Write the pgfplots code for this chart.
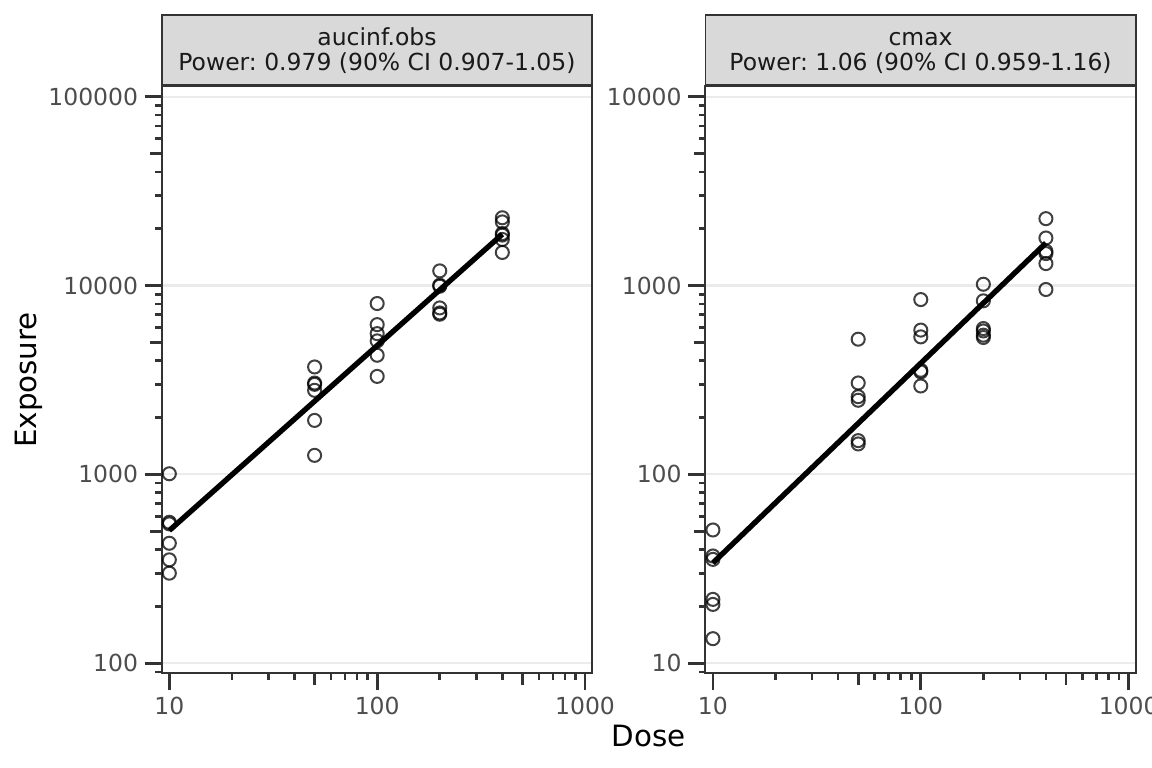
\documentclass[border=0pt]{standalone}
\usepackage{fontspec}
\setmainfont{DejaVu Sans}
\usepackage{pgfplots}
\usepackage{pgfplotstable}
\pgfplotsset{compat=1.18}
\definecolor{gtwenty}{HTML}{333333}
\definecolor{gthirty}{HTML}{4D4D4D}
\definecolor{gridc}{HTML}{EBEBEB}
\definecolor{stripc}{HTML}{D9D9D9}
\definecolor{gten}{HTML}{1A1A1A}
\frenchspacing

\pgfplotstableread{
dose val
10 1008
10 558
10 547
10 432
10 353
10 300
50 3707
50 3047
50 2999
50 2788
50 1932
50 1262
100 8032
100 6211
100 5565
100 5094
100 4276
100 3304
200 11960
200 10040
200 9920
200 7614
200 7165
200 7050
400 22850
400 21730
400 18860
400 18500
400 17540
400 14970
}\auctab

\pgfplotstableread{
dose val
10 50.8
10 37.0
10 35.5
10 21.8
10 20.5
10 13.5
50 520
50 305
50 258
50 247
50 151
50 145
100 843
100 581
100 535
100 356
100 349
100 294
200 1016
200 830
200 592
200 575
200 546
200 531
400 2261
400 1786
400 1520
400 1477
400 1307
400 953
}\cmaxtab

\begin{document}
\begin{tikzpicture}
\useasboundingbox (0,0) rectangle (432pt,-288pt);

\fill[white] (0,0) rectangle (432pt,-288pt);
\draw[fill=stripc, draw=gtwenty, line width=0.6pt] (60.64pt,-5.625pt) rectangle (222.11pt,-31.7pt);
\draw[fill=stripc, draw=gtwenty, line width=0.6pt] (264.49pt,-5.625pt) rectangle (425.96pt,-31.7pt);
\node[anchor=base, inner sep=0pt, text=gten, font=\fontsize{8.8}{10}\selectfont] at (141.37pt,-17.06pt) {aucinf.obs};
\node[anchor=base, inner sep=0pt, text=gten, font=\fontsize{8.8}{10}\selectfont] at (141.37pt,-26.51pt) {Power: 0.979 (90\% CI 0.907-1.05)};
\node[anchor=base, inner sep=0pt, text=gten, font=\fontsize{8.8}{10}\selectfont] at (345.22pt,-17.06pt) {cmax};
\node[anchor=base, inner sep=0pt, text=gten, font=\fontsize{8.8}{10}\selectfont] at (345.22pt,-26.51pt) {Power: 1.06 (90\% CI 0.959-1.16)};

\begin{axis}[at={(60.64pt,-252.49pt)}, anchor=south west,
  xmode=log, ymode=log,
  scale only axis, width=161.48pt, height=220.24pt,
  xmin=9.192, xmax=1084,
  ymin=88.52, ymax=113950,
  axis line style={gtwenty, line width=0.7pt},
  tick align=outside, tick pos=left,
  major tick length=6.4pt, minor tick length=2.45pt,
  tick style={gtwenty, line width=1pt},
  xtick={10,100,1000}, xticklabels={10,100,1000},
  minor xtick={20,30,40,60,70,80,90,200,300,400,600,700,800,900},
  extra x ticks={50,500}, extra x tick labels={},
  extra x tick style={major tick length=4.3pt, xmajorgrids=false},
  ytick={100,1000,10000,100000}, yticklabels={100,1000,10000,100000},
  minor ytick={90,200,300,400,600,700,800,900,2000,3000,4000,6000,7000,8000,9000,20000,30000,40000,60000,70000,80000,90000},
  extra y ticks={500,5000,50000}, extra y tick labels={},
  extra y tick style={major tick length=4.3pt, ymajorgrids=false},
  ymajorgrids=true, xmajorgrids=false,
  major grid style={gridc, line width=0.8pt},
  ticklabel style={font=\fontsize{8.8}{10}\selectfont, text=gthirty},
  xticklabel style={anchor=north, inner sep=0pt, yshift=-2.2pt},
  yticklabel style={anchor=east, inner sep=0pt, xshift=-2.3pt},
  clip=false,
]
\addplot[only marks, mark=o, mark size=2.45pt, mark options={draw=black, draw opacity=0.75, line width=0.75pt}] table[x=dose, y=val] {\auctab};
\addplot[black, line width=2pt] coordinates {(10,505) (400,18700)};
\draw[gtwenty, line width=0.7pt] (rel axis cs:0,0) rectangle (rel axis cs:1,1);
\end{axis}

\begin{axis}[at={(264.49pt,-252.49pt)}, anchor=south west,
  xmode=log, ymode=log,
  scale only axis, width=161.48pt, height=220.24pt,
  xmin=9.192, xmax=1084,
  ymin=8.852, ymax=11395,
  axis line style={gtwenty, line width=0.7pt},
  tick align=outside, tick pos=left,
  major tick length=6.4pt, minor tick length=2.45pt,
  tick style={gtwenty, line width=1pt},
  xtick={10,100,1000}, xticklabels={10,100,1000},
  minor xtick={20,30,40,60,70,80,90,200,300,400,600,700,800,900},
  extra x ticks={50,500}, extra x tick labels={},
  extra x tick style={major tick length=4.3pt, xmajorgrids=false},
  ytick={10,100,1000,10000}, yticklabels={10,100,1000,10000},
  minor ytick={9,20,30,40,60,70,80,90,200,300,400,600,700,800,900,2000,3000,4000,6000,7000,8000,9000},
  extra y ticks={50,500,5000}, extra y tick labels={},
  extra y tick style={major tick length=4.3pt, ymajorgrids=false},
  ymajorgrids=true, xmajorgrids=false,
  major grid style={gridc, line width=0.8pt},
  ticklabel style={font=\fontsize{8.8}{10}\selectfont, text=gthirty},
  xticklabel style={anchor=north, inner sep=0pt, yshift=-2.2pt},
  yticklabel style={anchor=east, inner sep=0pt, xshift=-2.3pt},
  clip=false,
]
\addplot[only marks, mark=o, mark size=2.45pt, mark options={draw=black, draw opacity=0.75, line width=0.75pt}] table[x=dose, y=val] {\cmaxtab};
\addplot[black, line width=2pt] coordinates {(10,34) (400,1680)};
\draw[gtwenty, line width=0.7pt] (rel axis cs:0,0) rectangle (rel axis cs:1,1);
\end{axis}

\node[anchor=base, inner sep=0pt, font=\fontsize{11}{13}\selectfont] at (243.2pt,-280pt) {Dose};
\node[anchor=base, rotate=90, inner sep=0pt, font=\fontsize{11}{13}\selectfont] at (13.76pt,-142.5pt) {Exposure};
\end{tikzpicture}
\end{document}
